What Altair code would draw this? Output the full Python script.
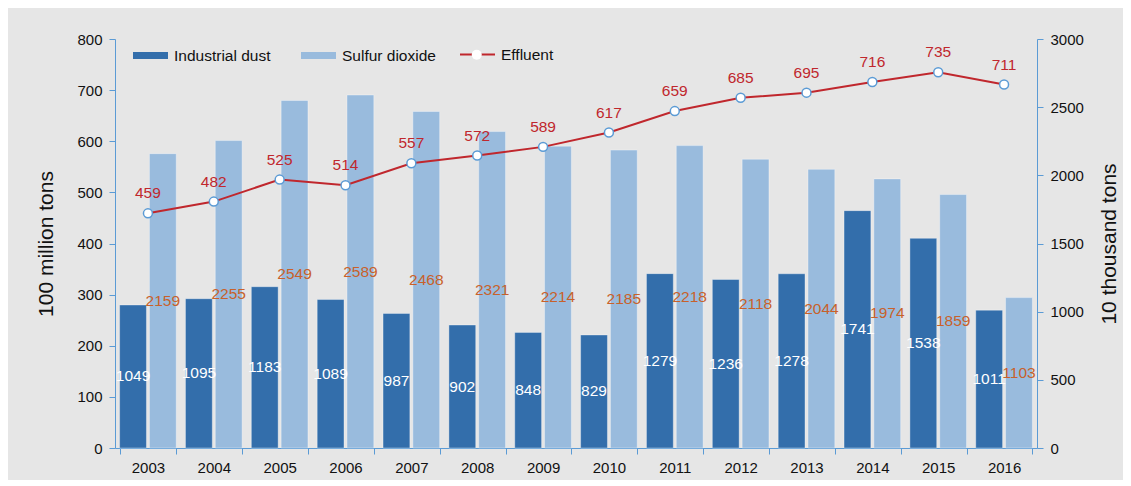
import altair as alt
import pandas as pd

years = [str(y) for y in range(2003, 2017)]
dust = [1049, 1095, 1183, 1089, 987, 902, 848, 829, 1279, 1236, 1278, 1741, 1538, 1011]
sulfur = [2159, 2255, 2549, 2589, 2468, 2321, 2214, 2185, 2218, 2118, 2044, 1974, 1859, 1103]
effluent = [459, 482, 525, 514, 557, 572, 589, 617, 659, 685, 695, 716, 735, 711]
series_names = ["Industrial dust", "Sulfur dioxide"]
left_ticks = [0, 100, 200, 300, 400, 500, 600, 700, 800]
right_ticks = [0, 500, 1000, 1500, 2000, 2500, 3000]

bars_df = pd.DataFrame({
    "year": years * 2,
    "series": [series_names[0]] * len(years) + [series_names[1]] * len(years),
    "value": dust + sulfur,
})
bars_df["mid"] = bars_df["value"] / 2
eff_df = pd.DataFrame({"year": years, "value": effluent,
                       "s2": "Effluent", "s3": "marker"})

AXIS_BLUE = "#5b9bd5"
DUST = "#336eab"
SULF = "#99bbdd"
RED = "#c0272d"
ORANGE = "#c8612a"
FONT = "Liberation Sans"

xenc = alt.X("year:N", scale=alt.Scale(type="band", paddingInner=0.14, paddingOuter=0.07),
             axis=alt.Axis(title=None, tickBand="extent", labelAngle=0, domainColor=AXIS_BLUE,
                           tickColor=AXIS_BLUE, tickSize=6, labelFontSize=15, labelColor="#111",
                           labelPadding=6, labelFont=FONT))
xoff = alt.XOffset("series:N", scale=alt.Scale(domain=series_names, paddingInner=0.1))
right_axis = alt.Axis(orient="right", values=right_ticks, format="d", title="10 thousand tons",
                      titleAngle=270, titleBaseline="top", titleFontSize=21,
                      titleFontWeight="normal", titleFont=FONT, titleColor="#111",
                      titlePadding=15, labelFontSize=15, labelFont=FONT, labelColor="#111",
                      labelPadding=7, domainColor=AXIS_BLUE, tickColor=AXIS_BLUE, tickSize=6,
                      grid=False)
yright = alt.Y("value:Q", scale=alt.Scale(domain=[0, 3000]), axis=right_axis)

bars = alt.Chart(bars_df).mark_bar(stroke="white", strokeOpacity=0.35, strokeWidth=1).encode(
    x=xenc, xOffset=xoff, y=yright,
    color=alt.Color("series:N", scale=alt.Scale(domain=series_names, range=[DUST, SULF]),
                    legend=alt.Legend(orient="none", legendX=18, legendY=-1, direction="horizontal",
                                      title=None, symbolType="M-1,-0.2H1V0.2H-1Z", symbolSize=1225,
                                      symbolStrokeWidth=0, labelFontSize=15.5, labelFont=FONT,
                                      labelColor="#111", labelOffset=6, columnPadding=30,
                                      padding=0)),
)

ymid = alt.Y("mid:Q", scale=alt.Scale(domain=[0, 3000]), axis=right_axis)
dust_text = alt.Chart(bars_df).transform_filter(
    alt.datum.series == series_names[0]
).mark_text(color="white", fontSize=15.5, font=FONT, baseline="middle").encode(
    x=xenc, xOffset=xoff, y=ymid, text="value:Q")
sulf_text = alt.Chart(bars_df).transform_filter(
    alt.datum.series == series_names[1]
).mark_text(color=ORANGE, fontSize=15.5, font=FONT, baseline="middle").encode(
    x=xenc, xOffset=xoff, y=ymid, text="value:Q")

bar_layer = alt.layer(bars, dust_text, sulf_text)

yleft = alt.Y("value:Q", scale=alt.Scale(domain=[0, 800]),
              axis=alt.Axis(orient="left", values=left_ticks, title="100 million tons",
                            titleFontSize=21, titleFontWeight="normal", titleFont=FONT,
                            titleColor="#111", titlePadding=20, labelFontSize=15, labelFont=FONT,
                            labelColor="#111", labelPadding=7, domainColor=AXIS_BLUE,
                            tickColor=AXIS_BLUE, tickSize=6, grid=False))

line = alt.Chart(eff_df).mark_line(strokeWidth=2).encode(
    x=xenc, y=yleft,
    stroke=alt.Stroke("s2:N", scale=alt.Scale(domain=["Effluent"], range=[RED]),
                      legend=alt.Legend(orient="none", legendX=344, legendY=-3, title=None,
                                        symbolType="stroke", symbolSize=1225, symbolStrokeWidth=2,
                                        labelFontSize=15.5, labelFont=FONT, labelColor="#111",
                                        labelOffset=5, padding=0, zindex=1)),
)
points = alt.Chart(eff_df).mark_point(filled=False, fill="white", fillOpacity=1,
                                      stroke=AXIS_BLUE, strokeWidth=1.5, size=80,
                                      opacity=1).encode(
    x=xenc, y=yleft,
    shape=alt.Shape("s3:N", scale=alt.Scale(domain=["marker"], range=["circle"]),
                    legend=alt.Legend(orient="none", legendX=354, legendY=8, title=None,
                                      labelExpr="''", symbolType="circle",
                                      symbolFillColor="white", symbolOpacity=1,
                                      symbolStrokeColor=AXIS_BLUE, symbolStrokeWidth=1.5,
                                      symbolSize=100, padding=0, labelFontSize=15.5, zindex=3)),
)
eff_text = alt.Chart(eff_df).mark_text(color=RED, fontSize=15.5, font=FONT, dy=-20,
                                       baseline="middle").encode(
    x=xenc, y=yleft, text="value:Q")

line_layer = alt.layer(line, points, eff_text)

chart = alt.layer(bar_layer, line_layer).resolve_scale(y="independent").properties(
    width=922, height=409,
    padding={"left": 107, "top": 31, "right": 86, "bottom": 32},
    autosize=alt.AutoSizeParams(type="none"),
).configure(background="#e6e6e6").configure_view(stroke=None)

chart.save("out.html", embed_options={"renderer": "svg", "actions": False})
